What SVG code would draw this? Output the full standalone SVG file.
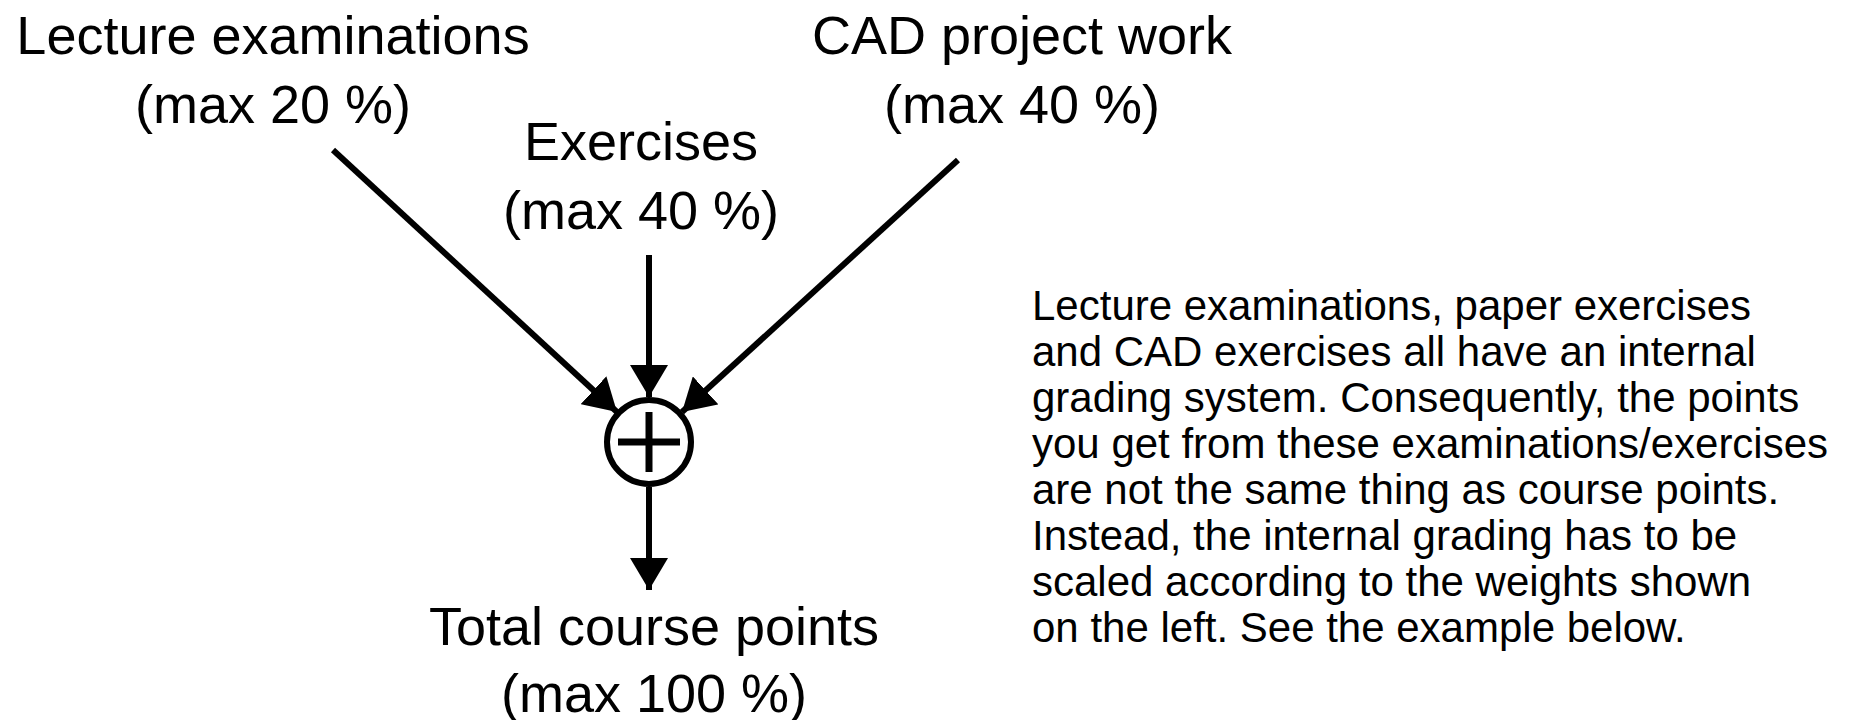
<svg xmlns="http://www.w3.org/2000/svg" width="1863" height="720" viewBox="0 0 1863 720">
  <style>
    .lbl { font-family: "Liberation Sans", Arial, sans-serif; font-size: 54px; fill: #000; text-anchor: middle; }
    .para { font-family: "Liberation Sans", Arial, sans-serif; font-size: 42px; fill: #000; }
    .conn { stroke: #000; stroke-width: 6; fill: none; }
  </style>
  <defs>
    <marker id="arrow" viewBox="0 0 32 38" refX="32" refY="19" markerWidth="32" markerHeight="38" markerUnits="userSpaceOnUse" orient="auto">
      <path d="M0,0 L32,19 L0,38 Z" fill="#000"/>
    </marker>
  </defs>
  <rect width="1863" height="720" fill="#fff"/>

  <g id="lecture">
    <text class="lbl" x="273" y="54">Lecture examinations</text>
    <text class="lbl" x="273" y="123">(max 20 %)</text>
  </g>
  <g id="exercises">
    <text class="lbl" x="641" y="160">Exercises</text>
    <text class="lbl" x="641" y="229">(max 40 %)</text>
  </g>
  <g id="cad">
    <text class="lbl" x="1022" y="54">CAD project work</text>
    <text class="lbl" x="1022" y="123">(max 40 %)</text>
  </g>
  <g id="sum">
    <circle cx="649" cy="442" r="42" fill="none" stroke="#000" stroke-width="6"/>
    <line x1="618" y1="442" x2="680" y2="442" stroke="#000" stroke-width="7"/>
    <line x1="649" y1="412" x2="649" y2="472" stroke="#000" stroke-width="7"/>
  </g>
  <g id="total">
    <text class="lbl" x="654" y="645">Total course points</text>
    <text class="lbl" x="654" y="712">(max 100 %)</text>
  </g>
  <g id="note">
    <text class="para" x="1032" y="320">Lecture examinations, paper exercises</text>
    <text class="para" x="1032" y="366">and CAD exercises all have an internal</text>
    <text class="para" x="1032" y="412">grading system. Consequently, the points</text>
    <text class="para" x="1032" y="458">you get from these examinations/exercises</text>
    <text class="para" x="1032" y="504">are not the same thing as course points.</text>
    <text class="para" x="1032" y="550">Instead, the internal grading has to be</text>
    <text class="para" x="1032" y="596">scaled according to the weights shown</text>
    <text class="para" x="1032" y="642">on the left. See the example below.</text>
  </g>

  <g id="connectors">
    <line class="conn" x1="333" y1="150" x2="617" y2="412" marker-end="url(#arrow)"/>
    <line class="conn" x1="649" y1="255" x2="649" y2="397" marker-end="url(#arrow)"/>
    <line class="conn" x1="958" y1="160" x2="682" y2="412" marker-end="url(#arrow)"/>
    <line class="conn" x1="649" y1="487" x2="649" y2="590" marker-end="url(#arrow)"/>
  </g>
</svg>
